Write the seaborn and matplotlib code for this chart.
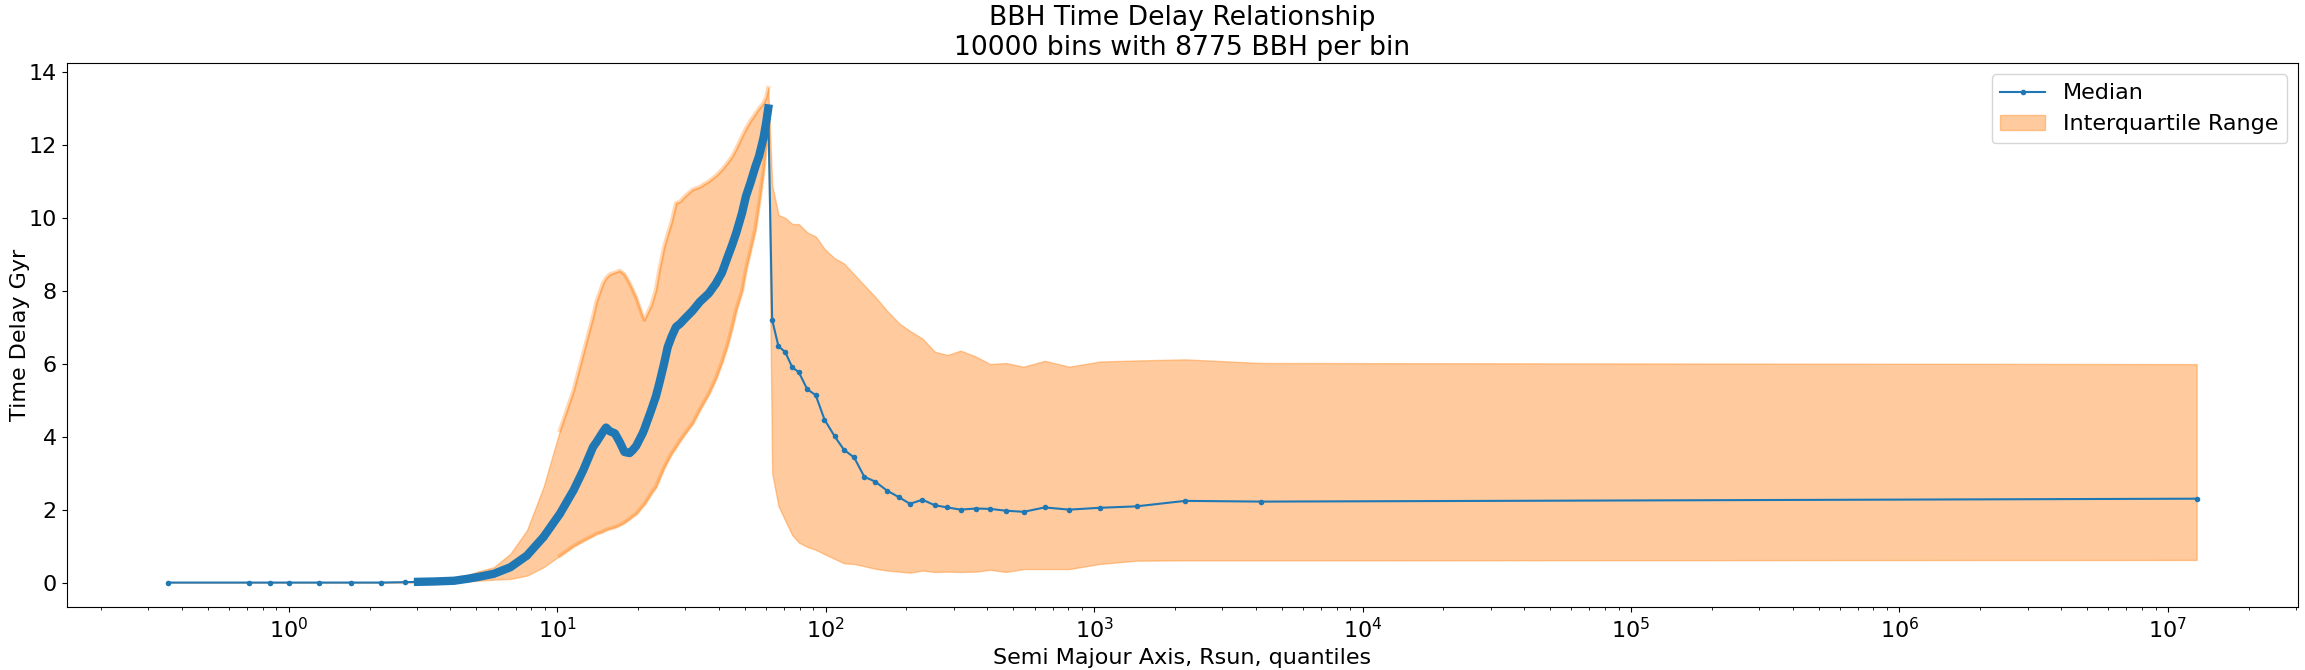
import numpy as np
import pandas as pd
import matplotlib
matplotlib.use("Agg")
import matplotlib.pyplot as plt
import seaborn as sns

# quantile bin centres (Rsun) and time delay stats (Gyr)
sep = [0.355, 0.71, 0.85, 1.0, 1.3, 1.7, 2.2, 2.7, 3.03, 3.5,
       4.13, 4.6, 5.04, 5.8, 6.69, 7.71, 8.89, 10.24, 11.5, 12.5,
       13.6, 14.0, 14.8, 15.2, 15.7, 16.4, 17.1, 17.8, 18.6, 19.1,
       19.7, 20.8, 21.1, 22.4, 23.3, 24.0, 25.0, 25.8, 26.7, 27.7,
       28.7, 30.0, 31.9, 34.0, 36.7, 39.0, 41.1, 43.0, 44.8, 46.5,
       48.8, 50.5, 52.4, 54.7, 56.5, 58.7, 60.0, 61.1,
       63.2, 66.7, 70.7, 75.1, 79.4, 85.4, 91.8, 99.0, 108.0, 117.0,
       127.7, 139.3, 152.8, 169.4, 187.6, 206.0, 229.4, 255.0, 284.0, 318.0,
       362.0, 410.0, 469.0, 546.0, 655.0, 807.0, 1050.0, 1439.0, 2183.0, 4198.0,
       1.28e7]

median = [0.0, 0.0, 0.0, 0.0, 0.0, 0.0, 0.0, 0.01, 0.02, 0.03,
          0.05, 0.1, 0.15, 0.24, 0.42, 0.74, 1.25, 1.89, 2.53, 3.08,
          3.72, 3.85, 4.13, 4.25, 4.15, 4.09, 3.85, 3.58, 3.55, 3.63,
          3.75, 4.09, 4.2, 4.73, 5.1, 5.46, 6.0, 6.46, 6.75, 7.01,
          7.1, 7.25, 7.45, 7.7, 7.93, 8.2, 8.5, 8.9, 9.25, 9.6,
          10.13, 10.6, 10.95, 11.4, 11.7, 12.2, 12.6, 13.0,
          7.2, 6.48, 6.32, 5.9, 5.77, 5.3, 5.14, 4.47, 4.01, 3.64,
          3.43, 2.9, 2.77, 2.52, 2.34, 2.16, 2.27, 2.12, 2.06, 2.0,
          2.03, 2.02, 1.97, 1.94, 2.06, 2.0, 2.05, 2.09, 2.24, 2.22,
          2.3]

q1 = [0.0, 0.0, 0.0, 0.0, 0.0, 0.0, 0.0, 0.0, 0.0, 0.01,
      0.02, 0.03, 0.05, 0.08, 0.1, 0.19, 0.42, 0.74, 1.0, 1.15,
      1.29, 1.34, 1.4, 1.45, 1.48, 1.52, 1.58, 1.65, 1.75, 1.82,
      1.89, 2.1, 2.15, 2.45, 2.62, 2.85, 3.15, 3.35, 3.55, 3.72,
      3.9, 4.1, 4.36, 4.75, 5.18, 5.6, 6.05, 6.5, 7.0, 7.5,
      8.0, 8.6, 9.1, 9.7, 10.4, 11.3, 12.0, 12.6,
      3.0, 2.1, 1.7, 1.3, 1.1, 0.98, 0.9, 0.78, 0.65, 0.53,
      0.51, 0.45, 0.38, 0.33, 0.3, 0.27, 0.33, 0.29, 0.3, 0.29,
      0.3, 0.35, 0.29, 0.37, 0.37, 0.37, 0.51, 0.6, 0.61, 0.61,
      0.62]

q3 = [0.0, 0.0, 0.0, 0.0, 0.0, 0.0, 0.01, 0.02, 0.03, 0.05,
      0.1, 0.2, 0.3, 0.42, 0.79, 1.43, 2.62, 4.18, 5.27, 6.28,
      7.3, 7.7, 8.2, 8.35, 8.45, 8.5, 8.55, 8.45, 8.2, 8.02,
      7.8, 7.3, 7.2, 7.6, 8.02, 8.57, 9.2, 9.55, 9.9, 10.4,
      10.45, 10.6, 10.77, 10.85, 11.0, 11.15, 11.32, 11.5, 11.68, 11.9,
      12.23, 12.45, 12.65, 12.85, 13.0, 13.15, 13.3, 13.56,
      10.9, 10.08, 10.0, 9.83, 9.83, 9.6, 9.49, 9.15, 8.89, 8.75,
      8.45, 8.15, 7.84, 7.45, 7.11, 6.9, 6.69, 6.33, 6.24, 6.36,
      6.2, 5.99, 6.02, 5.92, 6.08, 5.92, 6.06, 6.09, 6.12, 6.02,
      5.99]

x_ticks = [1e0, 1e1, 1e2, 1e3, 1e4, 1e5, 1e6, 1e7]
y_ticks = [0, 2, 4, 6, 8, 10, 12, 14]

df = pd.DataFrame({"sep": sep, "median": median, "q1": q1, "q3": q3})
dense = df[(df["sep"] >= 3.0) & (df["sep"] <= 61.5)]

plt.rcParams["font.size"] = 16

fig, ax = plt.subplots(figsize=(23.05, 6.7), dpi=100)
fig.subplots_adjust(left=0.0289, right=0.997, bottom=0.0936, top=0.9055)

ax.fill_between(df["sep"], df["q1"], df["q3"], color="C1", alpha=0.4,
                linewidth=1, label="Interquartile Range")
# noisy edges of the band where the bins are packed tightly
edge = dense[dense["sep"] >= 10]
for col in ["q1", "q3"]:
    sns.lineplot(x=edge["sep"], y=edge[col], color="C1", alpha=0.3,
                 linewidth=3, ax=ax, legend=False)

sns.lineplot(data=df, x="sep", y="median", color="C0", marker=".",
             markersize=8, markeredgewidth=0, linewidth=1.5,
             label="Median", ax=ax)
# the median scatters a lot between 3 and 60 Rsun, shows as a thick band
sns.lineplot(data=dense, x="sep", y="median", color="C0", marker=".",
             markersize=8, markeredgewidth=0, linewidth=6, ax=ax,
             legend=False)

ax.set_xscale("log")
ax.set_xticks(x_ticks)
ax.set_yticks(y_ticks)
ax.set_xlabel("Semi Majour Axis, Rsun, quantiles")
ax.set_ylabel("Time Delay Gyr")
# keep the y label inside the figure, close to the left edge
ax.yaxis.set_label_coords(-0.0165, 0.5)
ax.set_title("BBH Time Delay Relationship\n10000 bins with 8775 BBH per bin")

handles, labels = ax.get_legend_handles_labels()
order = [labels.index("Median"), labels.index("Interquartile Range")]
ax.legend([handles[i] for i in order], [labels[i] for i in order],
          loc="upper right")

plt.savefig("out.png", dpi=100)
plt.close()
